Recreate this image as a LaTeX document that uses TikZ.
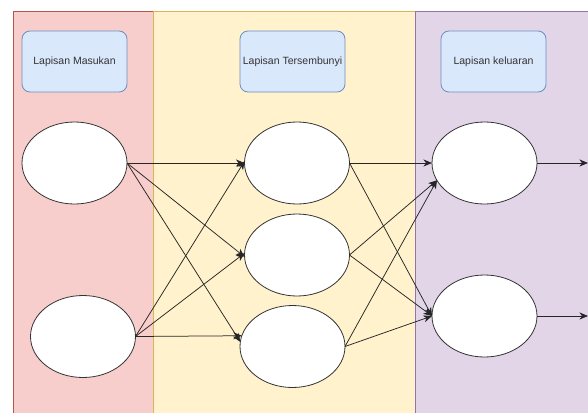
\documentclass[tikz,border=0pt]{standalone}
\usepackage{fontspec}
\setmainfont{Liberation Sans}
\usetikzlibrary{shapes.geometric,arrows.meta}
\definecolor{redfill}{HTML}{F8CECC}
\definecolor{redline}{HTML}{B85450}
\definecolor{yelfill}{HTML}{FFF2CC}
\definecolor{yelline}{HTML}{D6B656}
\definecolor{purfill}{HTML}{E1D5E7}
\definecolor{purline}{HTML}{9673A6}
\definecolor{bluefill}{HTML}{DAE8FC}
\definecolor{blueline}{HTML}{6C8EBF}
\definecolor{txt}{HTML}{333333}
\tikzset{
  panel/.style={draw=#1line, fill=#1fill, line width=0.8pt},
  labelbox/.style={draw=blueline, fill=bluefill, rounded corners=8pt, line width=0.8pt,
    minimum width=105pt, minimum height=61pt, inner sep=0pt, outer sep=0pt,
    font=\fontsize{10.5}{12}\selectfont, text=txt},
  neuron/.style={ellipse, draw=black!80, fill=white, line width=0.8pt,
    minimum width=105pt, minimum height=82pt, inner sep=0pt, outer sep=0pt},
  conn/.style={draw=black!85, line width=0.75pt, -{Stealth[length=8.5pt,width=7pt,inset=2.5pt]}}
}
\begin{document}
\begin{tikzpicture}[x=1pt,y=-1pt]
\clip (0,0) rectangle (588,412);
\fill[white] (0,0) rectangle (588,412);
% panels
\draw[panel=red] (13,11) rectangle (153,430);
\draw[panel=yel] (153,11) rectangle (415,430);
\draw[panel=pur] (415,11) rectangle (610,430);
% label boxes
\node[labelbox] (lin) at (74.5,61.5) {Lapisan Masukan};
\node[labelbox] (lhid) at (292.5,61.5) {Lapisan Tersembunyi};
\node[labelbox] (lout) at (493.5,61.5) {Lapisan keluaran};
% neurons
\node[neuron] (in1) at (74.5,163) {};
\node[neuron] (in2) at (83,336.5) {};
\node[neuron] (h1) at (297,163) {};
\node[neuron] (h2) at (297,255) {};
\node[neuron] (h3) at (292.5,346.5) {};
\node[neuron] (o1) at (484.5,163) {};
\node[neuron] (o2) at (484.5,316) {};
\coordinate (e1) at (588,163);
\coordinate (e2) at (588,316);
% connectors input -> hidden
\draw[conn] (in1.east) -- (h1.west);
\draw[conn] (in1.east) -- (h2.182);
\draw[conn] (in1.east) -- (h3.175);
\draw[conn] (in2.east) -- (h1.178);
\draw[conn] (in2.east) -- (h2.178);
\draw[conn] (in2.east) -- (h3.168);
% hidden -> output
\draw[conn] (h1.east) -- (o1.west);
\draw[conn] (h1.east) -- (o2.west);
\draw[conn] (h2.east) -- (o1.200);
\draw[conn] (h2.east) -- (o2.west);
\draw[conn] (h3.east) -- (o1.200);
\draw[conn] (h3.east) -- (o2.west);
% output
\draw[conn] (o1.east) -- (e1);
\draw[conn] (o2.east) -- (e2);
\end{tikzpicture}
\end{document}
